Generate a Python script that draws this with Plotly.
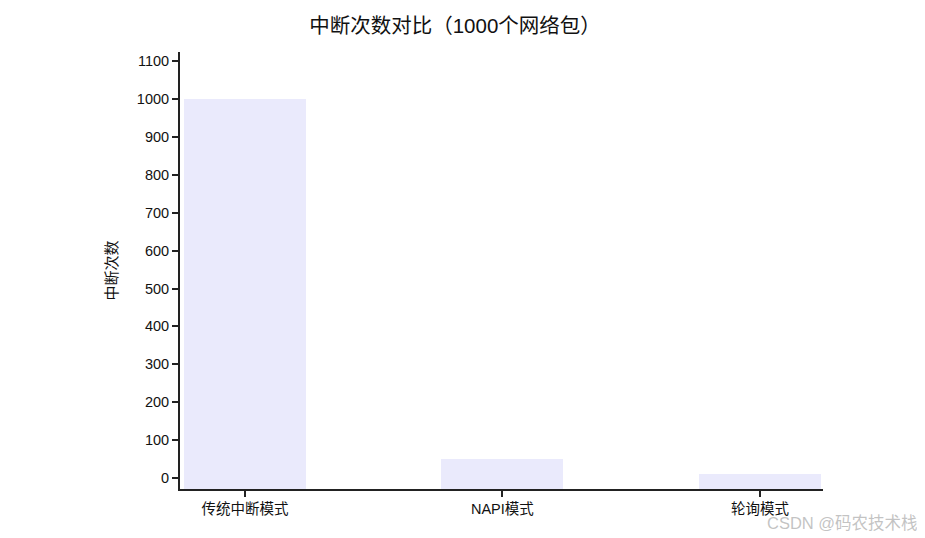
import plotly.graph_objects as go

categories = ["传统中断模式", "NAPI模式", "轮询模式"]
interrupts = [1000, 50, 10]
y_ticks = [0, 100, 200, 300, 400, 500, 600, 700, 800, 900, 1000, 1100]

FONT = "Liberation Sans, Arial, Noto Sans CJK SC, sans-serif"

W, H = 917, 530
L, T = 172, 44
PW, PH = 643, 437
Y_MIN, Y_MAX = -29, 1124

# bars are drawn from the bottom of the axis (as in the reference)
bar_base = [Y_MIN] * len(interrupts)
bar_len = [v - b for v, b in zip(interrupts, bar_base)]

fig = go.Figure(
    go.Bar(
        x=[0, 1, 2],
        y=bar_len,
        base=bar_base,
        width=0.474,
        marker=dict(color="#EAEAFC", line=dict(width=0)),
        customdata=interrupts,
        hovertemplate="%{customdata}<extra></extra>",
    )
)

fig.update_layout(
    width=W,
    height=H,
    margin=dict(l=L, r=W - L - PW, t=T, b=H - T - PH),
    paper_bgcolor="white",
    plot_bgcolor="white",
    font=dict(family=FONT, size=14, color="#111"),
    title=dict(
        text="中断次数对比（1000个网络包）",
        x=447 / W,
        xanchor="center",
        y=1 - 18 / H,
        yanchor="middle",
        font=dict(size=20.5, color="#111", family=FONT),
    ),
    showlegend=False,
    bargap=0,
)

fig.update_xaxes(
    range=[-0.252, 2.245],
    tickmode="array",
    tickvals=[0, 1, 2],
    ticktext=categories,
    showline=True,
    linecolor="#222",
    linewidth=2,
    ticks="outside",
    ticklen=6,
    tickwidth=2,
    tickcolor="#222",
    showgrid=False,
    zeroline=False,
    tickfont=dict(size=14.5, color="#111"),
)

fig.update_yaxes(
    range=[Y_MIN, Y_MAX],
    tickmode="array",
    tickvals=y_ticks,
    showline=True,
    linecolor="#222",
    linewidth=2,
    ticks="outside",
    ticklen=6,
    tickwidth=2,
    tickcolor="#222",
    showgrid=False,
    zeroline=False,
    title=dict(text="中断次数", font=dict(size=15, color="#111"), standoff=16),
    tickfont=dict(size=14.5, color="#111"),
)

fig.add_annotation(
    text="CSDN @码农技术栈",
    xref="paper", yref="paper",
    x=(912 - L) / PW, y=-(515 - (T + PH)) / PH,
    xanchor="right", yanchor="middle",
    showarrow=False,
    font=dict(size=16.5, color="rgba(175,175,175,0.75)", family=FONT),
)

fig.write_html("out.html")
